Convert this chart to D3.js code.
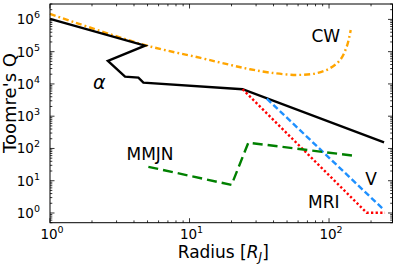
<!DOCTYPE html>
<html><head><meta charset="utf-8">
<script src="https://cdn.jsdelivr.net/npm/d3@7"></script>
<style>body{margin:0;background:#fff}svg{display:block}text{font-family:"DejaVu Sans",sans-serif}</style>
</head><body><svg id="c" width="399" height="266"></svg>
<script>
// data (radius in R_J, Toomre's Q)
const alphaR = [1, 4.8, 2.6, 3.45, 4.3, 4.67, 24, 248];
const alphaQ = [1.04e6, 1.54e5, 5.2e4, 1.68e4, 1.57e4, 1.1e4, 6.85e3, 155];
const cwR = [1, 4.8, 12, 19.5, 27.1, 37.8, 58.6, 81.6, 101.6, 120, 134, 143];
const cwQ = [1.48e6, 1.6e5, 6.4e4, 3.9e4, 2.86e4, 2.24e4, 1.9e4, 2.15e4, 3.07e4, 5.5e4, 1.44e5, 4.7e5];
const mriR = [24, 186, 252];
const mriQ = [6.85e3, 1.02, 1.02];
const vR = [35.8, 248];
const vQ = [3.5e3, 1.24];
const mmjnR = [5.07, 20, 26.4, 148];
const mmjnQ = [27, 7.4, 151, 60];
const xTickExp = [0, 1, 2];
const yTickExp = [0, 1, 2, 3, 4, 5, 6];

const svg = d3.select("#c");
const L = 50, R = 392.5, T = 4, B = 222.7;
const x = d3.scaleLog().domain([1, 285]).range([L, R]);
const y = d3.scaleLog().domain([0.5, 3e6]).range([B, T]);

const zip = (a, b) => a.map((v, i) => [v, b[i]]);
const line = d3.line().x(d => x(d[0])).y(d => y(d[1]));
const smooth = d3.line().x(d => x(d[0])).y(d => y(d[1])).curve(d3.curveCatmullRom.alpha(0.5));

const g = svg.append("g");
g.append("path").attr("d", smooth(zip(cwR, cwQ))).attr("fill", "none")
  .attr("stroke", "#FFA500").attr("stroke-width", 2.4).attr("stroke-dasharray", "6,3,1.8,3");
g.append("path").attr("d", line(zip(alphaR, alphaQ))).attr("fill", "none")
  .attr("stroke", "#000").attr("stroke-width", 2.4).attr("stroke-linejoin", "miter");
g.append("path").attr("d", line(zip(vR, vQ))).attr("fill", "none")
  .attr("stroke", "#1E90FF").attr("stroke-width", 2.4).attr("stroke-dasharray", "6,3");
g.append("path").attr("d", line(zip(mriR, mriQ))).attr("fill", "none")
  .attr("stroke", "#FF0000").attr("stroke-width", 2.4).attr("stroke-dasharray", "2.3,2.3");
g.append("path").attr("d", line(zip(mmjnR, mmjnQ))).attr("fill", "none")
  .attr("stroke", "#008000").attr("stroke-width", 2.4).attr("stroke-dasharray", "10,5");

// frame
svg.append("rect").attr("x", L).attr("y", T).attr("width", R - L).attr("height", B - T)
  .attr("fill", "none").attr("stroke", "#000").attr("stroke-width", 1);

// ticks (inward, all sides)
const tk = svg.append("g").attr("stroke", "#000").attr("stroke-width", 0.8);
const xMinor = [], yMinor = [];
for (let e = 0; e <= 2; e++) for (let m = 2; m <= 9; m++) { const v = m * 10 ** e; if (v <= 285) xMinor.push(v); }
for (let e = -1; e <= 6; e++) for (let m = 2; m <= 9; m++) { const v = m * 10 ** e; if (v >= 0.5 && v <= 3e6) yMinor.push(v); }
xTickExp.forEach(e => { const px = x(10 ** e);
  tk.append("line").attr("x1", px).attr("x2", px).attr("y1", B).attr("y2", B - 4.5);
  tk.append("line").attr("x1", px).attr("x2", px).attr("y1", T).attr("y2", T + 4.5); });
xMinor.forEach(v => { const px = x(v);
  tk.append("line").attr("x1", px).attr("x2", px).attr("y1", B).attr("y2", B - 2.3);
  tk.append("line").attr("x1", px).attr("x2", px).attr("y1", T).attr("y2", T + 2.3); });
yTickExp.forEach(e => { const py = y(10 ** e);
  tk.append("line").attr("x1", L).attr("x2", L + 4.5).attr("y1", py).attr("y2", py);
  tk.append("line").attr("x1", R).attr("x2", R - 4.5).attr("y1", py).attr("y2", py); });
yMinor.forEach(v => { const py = y(v);
  tk.append("line").attr("x1", L).attr("x2", L + 2.3).attr("y1", py).attr("y2", py);
  tk.append("line").attr("x1", R).attr("x2", R - 2.3).attr("y1", py).attr("y2", py); });

// tick labels
function powLabel(sel, e) {
  sel.append("tspan").text("10");
  sel.append("tspan").attr("dy", -6).attr("font-size", 9.5).text(String(e));
}
xTickExp.forEach(e => {
  const t = svg.append("text").attr("x", x(10 ** e) + 2).attr("y", 238.6)
    .attr("text-anchor", "middle").attr("font-size", 13.5).attr("fill", "#000");
  powLabel(t, e);
});
yTickExp.forEach(e => {
  const t = svg.append("text").attr("x", 40).attr("y", y(10 ** e) + 5)
    .attr("text-anchor", "end").attr("font-size", 13.5).attr("fill", "#000");
  powLabel(t, e);
});

// axis labels
const xl = svg.append("text").attr("x", (L + R) / 2 + 2).attr("y", 257.6)
  .attr("text-anchor", "middle").attr("font-size", 17).attr("fill", "#000");
xl.append("tspan").text("Radius [");
xl.append("tspan").attr("font-style", "italic").text("R");
xl.append("tspan").attr("font-style", "italic").attr("font-size", 12).attr("dy", 3).text("J");
xl.append("tspan").attr("dy", -3).text("]");
svg.append("text").attr("transform", "translate(15.5,103) rotate(-90)")
  .attr("text-anchor", "middle").attr("font-size", 18).attr("fill", "#000").text("Toomre's Q");

// curve labels
svg.append("text").attr("x", 311.5).attr("y", 41.7).attr("font-size", 17).text("CW");
svg.append("text").attr("x", 93).attr("y", 89.3).attr("font-size", 19).attr("font-style", "italic")
  .attr("font-family", "DejaVu Serif, serif").text("α");
svg.append("text").attr("x", 126.5).attr("y", 160).attr("font-size", 17).text("MMJN");
svg.append("text").attr("x", 365.3).attr("y", 185).attr("font-size", 17).text("V");
svg.append("text").attr("x", 308).attr("y", 207.7).attr("font-size", 17).text("MRI");
</script></body></html>
